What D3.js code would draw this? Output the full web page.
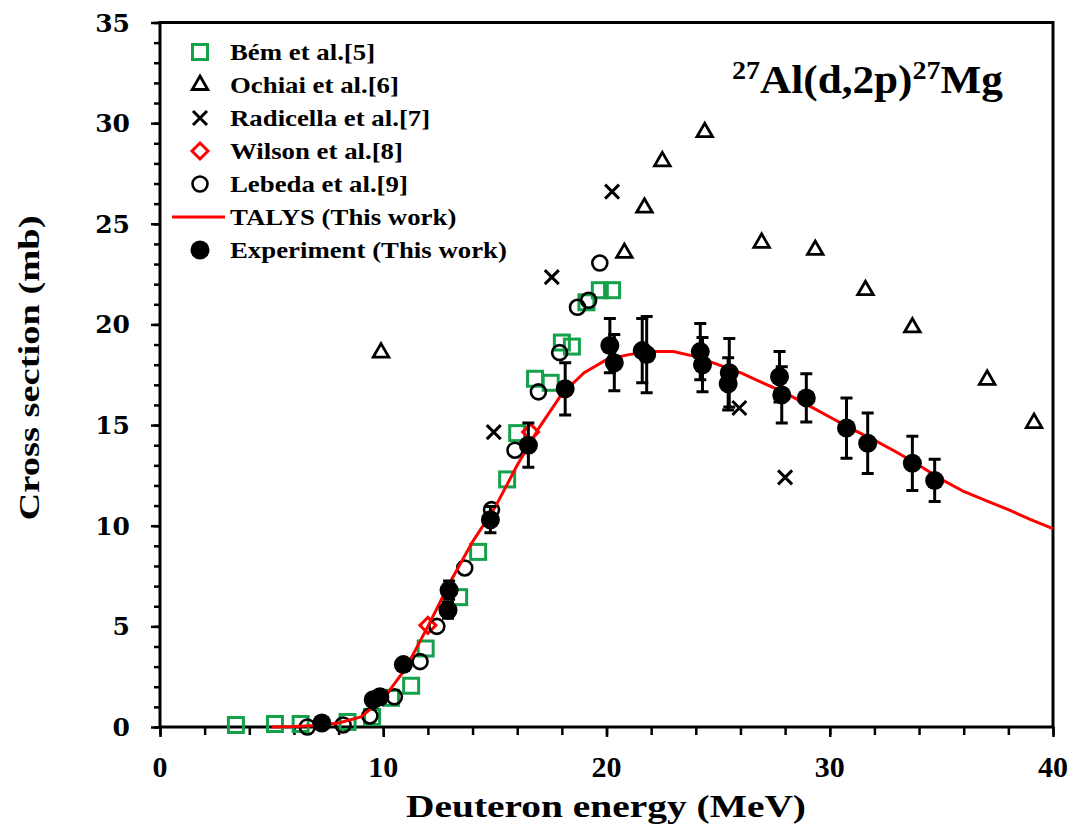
<!DOCTYPE html>
<html><head><meta charset="utf-8">
<script src="https://cdn.jsdelivr.net/npm/d3@7"></script>
<style>body{margin:0;background:#fff}</style>
</head><body><svg id="c" width="1076" height="829"></svg>
<script>
// ---- data ----
const xTicks = [0, 10, 20, 30, 40];
const yTicks = [0, 5, 10, 15, 20, 25, 30, 35];
const bem = [[3.4,0.1],[5.15,0.15],[6.3,0.15],[8.4,0.25],[9.5,0.5],[10.35,1.45],[11.25,2.05],[11.9,3.9],[13.4,6.45],[14.25,8.7],[15.55,12.3],[16.0,14.6],[16.8,17.3],[17.5,17.1],[18.0,19.1],[18.45,18.9],[19.1,21.1],[19.7,21.7],[20.25,21.7]];
const ochiai = [[9.9,18.6],[20.8,23.55],[21.7,25.8],[22.5,28.1],[24.4,29.55],[26.95,24.05],[29.35,23.7],[31.6,21.7],[33.7,19.85],[37.05,17.25],[39.15,15.1]];
const radicella = [[14.95,14.65],[17.55,22.35],[20.25,26.6],[25.95,15.85],[28.0,12.4]];
const wilson = [[12.0,5.05],[16.6,14.65]];
const lebeda = [[6.6,0.0],[8.2,0.1],[9.4,0.55],[10.5,1.5],[11.65,3.25],[12.4,5.0],[13.65,7.9],[14.85,10.8],[15.9,13.75],[16.95,16.65],[17.9,18.6],[18.7,20.85],[19.2,21.2],[19.7,23.05]];
const talys = [[5,0],[6,0.02],[7,0.08],[8,0.2],[9,0.5],[10,1.4],[11,2.9],[12,5.0],[13,7.2],[14,9.2],[15,10.9],[16,13.0],[17,14.9],[18,16.55],[19,17.6],[20,18.25],[21,18.5],[22,18.65],[23,18.65],[24,18.4],[25,18.0],[26,17.6],[27,17.1],[28,16.6],[29,16.0],[30,15.4],[31,14.8],[32,14.25],[33,13.65],[34,13.0],[35,12.3],[36,11.7],[37,11.25],[38,10.8],[39,10.3],[40,9.85]];
// experiment: energy, cross section, uncertainty
const expE = [7.25,9.55,9.85,10.9,12.9,12.95,14.8,16.5,18.15,20.15,20.35,21.6,21.8,24.2,24.3,25.5,25.45,27.75,27.85,28.95,30.75,31.7,33.7,34.7];
const expS = [0.2,1.35,1.5,3.1,5.8,6.8,10.3,14.0,16.8,18.95,18.1,18.7,18.5,18.65,18.0,17.6,17.05,17.4,16.5,16.35,14.85,14.1,13.1,12.25];
const expErr = [0.05,0.1,0.1,0.2,0.4,0.45,0.65,1.1,1.3,1.35,1.4,1.6,1.9,1.4,1.35,1.7,1.3,1.25,1.4,1.2,1.5,1.5,1.35,1.05];
const legendLabels = ["Bém et al.[5]","Ochiai et al.[6]","Radicella et al.[7]","Wilson et al.[8]","Lebeda et al.[9]","TALYS (This work)","Experiment (This work)"];
const legendTypes = ["square","triangle","cross","diamond","circle","line","filled"];

// ---- layout ----
const GREEN = "#15a04a", RED = "#ff0000";
const svg = d3.select("#c");
const x = d3.scaleLinear().domain([0,40]).range([160,1053]);
const y = d3.scaleLinear().domain([0,35]).range([727,22.5]);
const serif = "'Liberation Serif','Times New Roman',serif";

// minor/major ticks
const gx = svg.append("g").attr("transform","translate(0,727)");
gx.call(d3.axisBottom(x).tickValues(d3.range(0,41,2)).tickSize(8).tickFormat(""));
gx.append("g").call(d3.axisBottom(x).tickValues(xTicks).tickSize(10).tickFormat(""));
gx.selectAll(".domain").remove();
gx.selectAll("line").attr("stroke","#000").attr("stroke-width",2.5);
gx.selectAll(".lab").data(xTicks).join("text").attr("class","lab")
  .attr("x",d=>x(d)).attr("y",50).attr("text-anchor","middle").attr("fill","#000")
  .style("font-family",serif).style("font-weight","bold").style("font-size","30px").text(d=>d);

const gy = svg.append("g").attr("transform","translate(160,0)");
gy.call(d3.axisLeft(y).tickValues(d3.range(0,36,1)).tickSize(6).tickFormat(""));
gy.append("g").call(d3.axisLeft(y).tickValues(yTicks).tickSize(9).tickFormat(""));
gy.selectAll(".domain").remove();
gy.selectAll("line").attr("stroke","#000").attr("stroke-width",2.5);
gy.selectAll(".lab").data(yTicks).join("text").attr("class","lab")
  .attr("x",-30).attr("y",d=>y(d)).attr("dy","0.36em").attr("text-anchor","end").attr("fill","#000")
  .style("font-family","'DejaVu Serif',serif").style("font-weight","bold").style("font-size","25px").text(d=>d);

// frame
svg.append("rect").attr("x",x(0)).attr("y",y(35)).attr("width",x(40)-x(0)).attr("height",y(0)-y(35))
  .attr("fill","none").attr("stroke","#000").attr("stroke-width",3);

// axis titles
function fitText(t, w){ t.attr("textLength", w).attr("lengthAdjust","spacingAndGlyphs"); }
const xt = svg.append("text").attr("x",606).attr("y",817).attr("text-anchor","middle")
  .style("font-family",serif).style("font-weight","bold").style("font-size","31px").text("Deuteron energy (MeV)");
fitText(xt, 400);
const yt = svg.append("text").attr("transform","translate(39,368) rotate(-90)").attr("text-anchor","middle")
  .style("font-family",serif).style("font-weight","bold").style("font-size","30px").text("Cross section (mb)");
fitText(yt, 305);

// marker drawing
function marker(g, type, cx, cy){
  if(type==="square") g.append("rect").attr("x",cx-7.5).attr("y",cy-7.5).attr("width",15).attr("height",15).attr("fill","none").attr("stroke",GREEN).attr("stroke-width",3);
  else if(type==="triangle") g.append("path").attr("d",d3.symbol(d3.symbolTriangle,105)()).attr("transform",`translate(${cx},${cy})`).attr("fill","none").attr("stroke","#000").attr("stroke-width",2.8).attr("stroke-linejoin","miter");
  else if(type==="cross") g.append("path").attr("d",`M${cx-7},${cy-7}L${cx+7},${cy+7}M${cx-7},${cy+7}L${cx+7},${cy-7}`).attr("stroke","#000").attr("stroke-width",3);
  else if(type==="diamond") g.append("path").attr("d",`M${cx},${cy-8}L${cx+8},${cy}L${cx},${cy+8}L${cx-8},${cy}Z`).attr("fill","none").attr("stroke",RED).attr("stroke-width",3);
  else if(type==="circle") g.append("circle").attr("cx",cx).attr("cy",cy).attr("r",7.5).attr("fill","none").attr("stroke","#000").attr("stroke-width",2.6);
  else if(type==="filled") g.append("circle").attr("cx",cx).attr("cy",cy).attr("r",9.5).attr("fill","#000");
  else if(type==="line") g.append("line").attr("x1",cx-28).attr("x2",cx+25).attr("y1",cy).attr("y2",cy).attr("stroke",RED).attr("stroke-width",3);
}
const series = [[bem,"square"],[ochiai,"triangle"],[radicella,"cross"],[wilson,"diamond"],[lebeda,"circle"]];
series.forEach(([data,type])=>{
  const g = svg.append("g");
  data.forEach(d=>marker(g,type,x(d[0]),y(d[1])));
});

// TALYS
svg.append("path").datum(talys).attr("fill","none").attr("stroke",RED).attr("stroke-width",3)
  .attr("d",d3.line().x(d=>x(d[0])).y(d=>y(d[1])));

// experiment with error bars
const ge = svg.append("g");
expE.forEach((e,i)=>{
  const s = expS[i], er = expErr[i];
  const cx = x(e);
  ge.append("path").attr("d",`M${cx},${y(s-er)}V${y(s+er)}M${cx-6},${y(s-er)}H${cx+6}M${cx-6},${y(s+er)}H${cx+6}`)
    .attr("stroke","#000").attr("stroke-width",3).attr("fill","none");
  marker(ge,"filled",cx,y(s));
});

// legend
const lg = svg.append("g");
const lgTexts = [];
legendLabels.forEach((lab,i)=>{
  const cy = 52 + i*33;
  marker(lg, legendTypes[i], 200, cy);
  lgTexts.push(lg.append("text").attr("transform",`translate(230,${cy+7.5})`)
    .style("font-family",serif).style("font-weight","bold").style("font-size","22.5px").text(lab));
});
const lgScale = 277 / lgTexts[lgTexts.length-1].node().getComputedTextLength();
lgTexts.forEach((t,i)=>t.attr("transform",`translate(230,${52+i*33+7.5}) scale(${lgScale},1)`));

// title
const tt = svg.append("text").style("font-family",serif).style("font-weight","bold").style("font-size","40px");
tt.append("tspan").style("font-size","26px").attr("dy",-14).text("27");
tt.append("tspan").attr("dy",14).text("Al(d,2p)");
tt.append("tspan").style("font-size","26px").attr("dy",-14).text("27");
tt.append("tspan").attr("dy",14).text("Mg");
const tw = tt.node().getBBox().width;
tt.attr("transform",`translate(732,93) scale(${271/tw},1)`);
</script></body></html>
